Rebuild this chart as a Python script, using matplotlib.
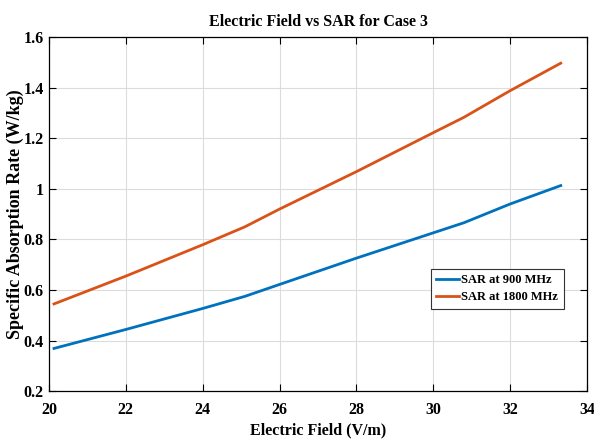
import matplotlib
matplotlib.use('Agg')
import matplotlib.pyplot as plt

# values
field = [20.13, 22, 24, 25.1, 26, 28, 30, 30.8, 32, 33.32]
sar_900 = [0.369, 0.444, 0.527, 0.575, 0.622, 0.726, 0.826, 0.866, 0.940, 1.013]
sar_1800 = [0.545, 0.655, 0.779, 0.850, 0.920, 1.068, 1.222, 1.283, 1.388, 1.497]

plt.rcParams['font.family'] = ['Liberation Serif', 'DejaVu Serif']
plt.rcParams['font.weight'] = 'bold'

fig = plt.figure(figsize=(5.94, 4.42), dpi=100)
ax = fig.add_axes([0.0825, 0.115, 0.9055, 0.801])

ax.plot(field, sar_900, color='#0072BD', lw=2.0, label='SAR at 900 MHz')
ax.plot(field, sar_1800, color='#D95319', lw=2.0, label='SAR at 1800 MHz')

ax.set_xlim(20, 34)
ax.set_ylim(0.2, 1.6)
ax.set_xticks(range(20, 35, 2))
ax.set_yticks([0.2, 0.4, 0.6, 0.8, 1.0, 1.2, 1.4, 1.6])
ax.set_yticklabels(['0.2', '0.4', '0.6', '0.8', '1', '1.2', '1.4', '1.6'])
ax.grid(True, color='#dcdcdc', lw=0.8)
ax.tick_params(direction='in', top=True, right=True, labelsize=11.5, length=5, width=0.8)
ax.tick_params(axis='x', pad=8)
ax.tick_params(axis='y', pad=4)
for lab in ax.get_xticklabels() + ax.get_yticklabels():
    lab.set_fontweight('bold')
for s in ax.spines.values():
    s.set_linewidth(0.9)

ax.set_title('Electric Field vs SAR for Case 3', fontsize=11.5, fontweight='bold', pad=8)
ax.set_xlabel('Electric Field (V/m)', fontsize=11.5, fontweight='bold')
ax.set_ylabel('Specific Absorption Rate (W/kg)', fontsize=13, fontweight='bold')
ax.xaxis.set_label_coords(0.5, -0.088)
ax.yaxis.set_label_coords(-0.046, 0.5)

leg = ax.legend(loc='lower right', bbox_to_anchor=(0.957, 0.232), fontsize=9,
                frameon=True, fancybox=False, framealpha=1, edgecolor='#333333',
                handlelength=1.8, handletextpad=0.2, borderpad=0.45, labelspacing=0.4,
                borderaxespad=0)
leg.get_frame().set_linewidth(0.8)
for t in leg.get_texts():
    t.set_fontweight('bold')

fig.savefig('out.png', dpi=100)
